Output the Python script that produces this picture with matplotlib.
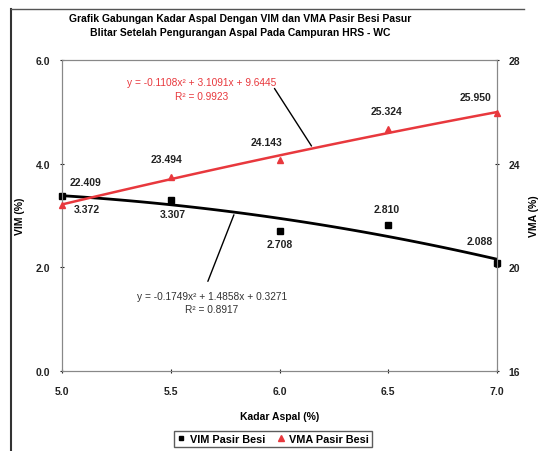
import numpy as np
import matplotlib
matplotlib.use("Agg")
import matplotlib.pyplot as plt
from matplotlib.lines import Line2D

plt.rcParams['font.family'] = ['Liberation Sans', 'DejaVu Sans']

# data
kadar = [5.0, 5.5, 6.0, 6.5, 7.0]
vim = [3.372, 3.307, 2.708, 2.810, 2.088]
vma = [22.409, 23.494, 24.143, 25.324, 25.950]

vim_lbl = ["3.372", "3.307", "2.708", "2.810", "2.088"]
vma_lbl = ["22.409", "23.494", "24.143", "25.324", "25.950"]

# label offsets in pixels (dx, dy)
vim_off = [(25, -13), (2, -14), (0, -13), (-2, 16), (-17, 22)]
vma_off = [(23, 23), (-4, 18), (-13, 18), (-2, 18), (-21, 16)]

eq_vim = "y = -0.1749x² + 1.4858x + 0.3271"
r2_vim = "R² = 0.8917"
eq_vma = "y = -0.1108x² + 3.1091x + 9.6445"
r2_vma = "R² = 0.9923"

fig = plt.figure(figsize=(5.42, 4.52), dpi=100)
ax = fig.add_axes([62/542, 1-372/452, 435/542, 311/452])
ax2 = ax.twinx()

# outer chart border (open at bottom)
fig.add_artist(Line2D([11/542, 11/542], [0, 1-10/452], color="#333333", lw=1.5, transform=fig.transFigure))
fig.add_artist(Line2D([11/542, 524/542], [1-10/452, 1-10/452], color="#555555", lw=1.0, transform=fig.transFigure))

# trendlines (2nd order polynomial)
xs = np.linspace(5.0, 7.0, 100)
p_vim = np.polyfit(kadar, vim, 2)
p_vma = np.polyfit(kadar, vma, 2)
ax.plot(xs, np.polyval(p_vim, xs), color="black", lw=2, zorder=2)
ax2.plot(xs, np.polyval(p_vma, xs), color="#e8383d", lw=1.8, zorder=2)

ax.plot(kadar, vim, 's', color="black", ms=4.5, zorder=3, clip_on=False)
ax2.plot(kadar, vma, '^', color="#e8383d", ms=5, zorder=3, clip_on=False)

for x, y, t, o in zip(kadar, vim, vim_lbl, vim_off):
    ax.annotate(t, (x, y), xytext=o, textcoords='offset pixels', ha='center', va='center',
                fontsize=7.5, fontweight='bold', color="#222222")
for x, y, t, o in zip(kadar, vma, vma_lbl, vma_off):
    ax2.annotate(t, (x, y), xytext=o, textcoords='offset pixels', ha='center', va='center',
                 fontsize=7.5, fontweight='bold', color="#222222")

# equation labels
ax.text(0.345, 0.241, eq_vim, transform=ax.transAxes, ha='center', va='center', fontsize=7.3, color="#333333")
ax.text(0.345, 0.199, r2_vim, transform=ax.transAxes, ha='center', va='center', fontsize=7.3, color="#333333")
ax.text(0.322, 0.929, eq_vma, transform=ax.transAxes, ha='center', va='center', fontsize=7.3, color="#e8383d")
ax.text(0.322, 0.884, r2_vma, transform=ax.transAxes, ha='center', va='center', fontsize=7.3, color="#e8383d")

xv = 5.795
ax.annotate("", xy=(xv, np.polyval(p_vim, xv)), xytext=(0.333, 0.28), textcoords='axes fraction',
            arrowprops=dict(arrowstyle='-', color="black", lw=1))
xr = 6.154
ax2.annotate("", xy=(xr, np.polyval(p_vma, xr)), xytext=(0.485, 0.916), textcoords='axes fraction',
             arrowprops=dict(arrowstyle='-', color="black", lw=1))

# axes
ax.set_xlim(5.0, 7.0)
ax.set_ylim(0, 6)
ax2.set_ylim(16, 28)
ax.set_xticks([5.0, 5.5, 6.0, 6.5, 7.0])
ax.set_xticklabels(["5.0", "5.5", "6.0", "6.5", "7.0"])
ax.set_yticks([0, 2, 4, 6])
ax.set_yticklabels(["0.0", "2.0", "4.0", "6.0"])
ax2.set_yticks([16, 20, 24, 28])
for a in (ax, ax2):
    for s in a.spines.values():
        s.set_color("#888888")
    a.tick_params(labelsize=7.5, colors="#222222", length=3, direction='inout', width=0.8, pad=7)
    for lb in a.get_xticklabels() + a.get_yticklabels():
        lb.set_fontweight('bold')
ax.tick_params(axis='x', pad=9)

ax.set_xlabel("Kadar Aspal (%)", fontsize=7.5, fontweight='bold', labelpad=11)
ax.set_ylabel("VIM (%)", fontsize=7.5, fontweight='bold', labelpad=8)
ax2.set_ylabel("VMA (%)", fontsize=7.5, fontweight='bold', labelpad=6)

fig.text(240/542, 1-19/452, "Grafik Gabungan Kadar Aspal Dengan VIM dan VMA Pasir Besi Pasur",
         ha='center', va='center', fontsize=7.5, fontweight='bold')
fig.text(240/542, 1-33/452, "Blitar Setelah Pengurangan Aspal Pada Campuran HRS - WC",
         ha='center', va='center', fontsize=7.5, fontweight='bold')

h1 = Line2D([], [], marker='s', color='black', ls='none', ms=3.5)
h2 = Line2D([], [], marker='^', color='#e8383d', ls='none', ms=4.5)
leg = fig.legend([h1, h2], ["VIM Pasir Besi", "VMA Pasir Besi"], loc='center',
                 bbox_to_anchor=(273/542, 1-440/452), ncol=2, frameon=True,
                 fancybox=False, edgecolor="#333333", handlelength=0.8, handletextpad=0.4,
                 columnspacing=1.0, borderpad=0.3, prop={'weight': 'bold', 'size': 7.8})

fig.savefig("out.png", dpi=100)
